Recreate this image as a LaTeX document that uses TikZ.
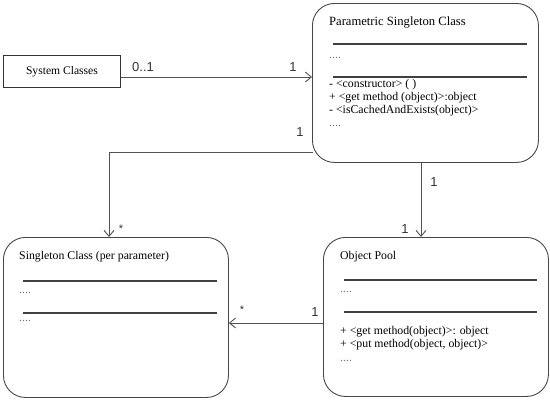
\documentclass[tikz,border=0pt]{standalone}
\usepackage{fontspec}
\setmainfont{Liberation Serif}
\newfontfamily\numfont{Liberation Sans}
\usetikzlibrary{arrows.meta}
\begin{document}
\begin{tikzpicture}[x=1pt,y=-1pt,
  roundbox/.style={draw=black!72, line width=0.9pt, rounded corners=22pt, anchor=north west, inner sep=0pt},
  sysbox/.style={draw=black!80, line width=0.9pt, anchor=north west, inner sep=0pt, font=\fontsize{11.6}{13}\selectfont},
  txt/.style={anchor=west, inner sep=0pt, font=\fontsize{11.8}{13}\selectfont},
  dots/.style={txt, text=black!55},
  mult/.style={inner sep=0pt, font=\numfont\fontsize{13}{15}\selectfont, text=black!80},
  star/.style={inner sep=0pt, font=\numfont\fontsize{11}{12}\selectfont, text=black!80},
  sepline/.style={draw=black!75, line width=1.1pt},
  conn/.style={draw=black!68, line width=0.9pt},
  arr/.style={conn, -{Straight Barb[length=6pt,width=10pt]}},
]
\useasboundingbox (0,0) rectangle (550,400);

% boxes
\node[sysbox, minimum width=117pt, minimum height=32pt] (sys) at (3,55) {System Classes};
\node[roundbox, minimum width=226pt, minimum height=159pt] (param) at (312,3) {};
\node[roundbox, minimum width=225pt, minimum height=160pt] (single) at (3,237) {};
\node[roundbox, minimum width=225pt, minimum height=159pt] (pool) at (323,237) {};

% Parametric Singleton Class contents
\node[txt, font=\fontsize{12.6}{14}\selectfont] (ptitle) at (329,22) {Parametric Singleton Class};
\draw[sepline] (333,44) -- (527,44);
\node[dots] (pd1) at (329,58) {....};
\draw[sepline] (333,77) -- (527,77);
\node[txt] (pm1) at (329,85) {- <constructor> ( )};
\node[txt] (pm2) at (329,98) {+ <get method (object)>:object};
\node[txt] (pm3) at (329,111) {- <isCachedAndExists(object)>};
\node[dots] (pd2) at (329,126) {....};

% Singleton Class contents
\node[txt] (stitle) at (19,257) {Singleton Class (per parameter)};
\draw[sepline] (23,281) -- (217,281);
\node[dots] (sd1) at (19,293) {....};
\draw[sepline] (23,313) -- (217,313);
\node[dots] (sd2) at (19,321) {....};

% Object Pool contents
\node[txt] (otitle) at (340,257) {Object Pool};
\draw[sepline] (344,280) -- (537,280);
\node[dots] (od1) at (340,292) {....};
\draw[sepline] (344,312) -- (537,312);
\node[txt] (om1) at (340,332) {+ <get method(object)>: object};
\node[txt] (om2) at (340,345) {+ <put method(object, object)>};
\node[dots] (od2) at (340,361) {....};

% connectors
\coordinate (c1) at (109,152);
\coordinate (c2) at (421,200);
\coordinate (c3) at (270,323);
\draw[arr] (sys.east |- 0,77) -- (param.west |- 0,77);
\draw[arr] (313,152) -| (c1 |- single.north);
\draw[arr] (c2 |- param.south) -- (c2 |- pool.north);
\draw[arr] (pool.west |- c3) -- (single.east |- c3);

% multiplicities
\node[mult] (m01) at (143,67) {0..1};
\node[mult] (m1a) at (293,67) {1};
\node[mult] (m1b) at (300,132) {1};
\node[star] (s1) at (121,229) {*};
\node[mult] (m1c) at (434,182) {1};
\node[mult] (m1d) at (405,229) {1};
\node[mult] (m1e) at (315,312) {1};
\node[star] (s2) at (242,310) {*};
\end{tikzpicture}
\end{document}
